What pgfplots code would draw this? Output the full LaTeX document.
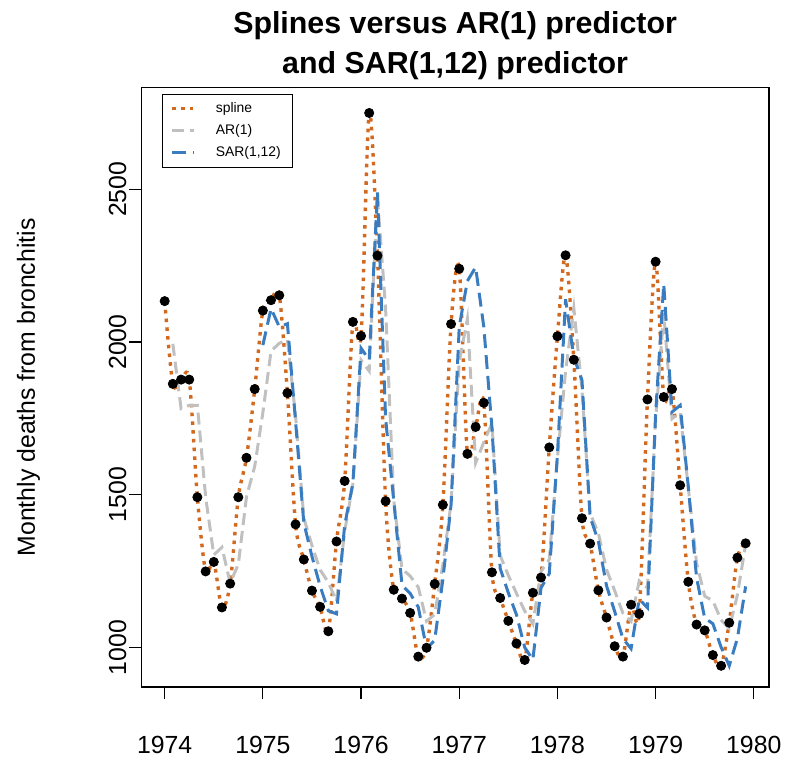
\documentclass[border=0pt]{standalone}
\usepackage{fontspec}
\setmainfont{Liberation Sans}
\usepackage{pgfplots}
\usepackage{pgfplotstable}
\pgfplotsset{compat=1.18}

\definecolor{splinecol}{RGB}{210,105,30}
\definecolor{arcol}{RGB}{192,192,192}
\definecolor{sarcol}{RGB}{58,124,192}

% monthly deaths (points, spline through them)
\pgfplotstableread{
t y
1974.000 2134
1974.083 1863
1974.167 1877
1974.250 1877
1974.333 1492
1974.417 1249
1974.500 1280
1974.583 1131
1974.667 1209
1974.750 1492
1974.833 1621
1974.917 1846
1975.000 2103
1975.083 2137
1975.167 2153
1975.250 1833
1975.333 1403
1975.417 1288
1975.500 1186
1975.583 1133
1975.667 1053
1975.750 1347
1975.833 1545
1975.917 2066
1976.000 2020
1976.083 2750
1976.167 2283
1976.250 1479
1976.333 1189
1976.417 1160
1976.500 1113
1976.583 970
1976.667 999
1976.750 1208
1976.833 1467
1976.917 2059
1977.000 2240
1977.083 1634
1977.167 1722
1977.250 1801
1977.333 1246
1977.417 1162
1977.500 1087
1977.583 1013
1977.667 959
1977.750 1179
1977.833 1229
1977.917 1655
1978.000 2019
1978.083 2284
1978.167 1942
1978.250 1423
1978.333 1340
1978.417 1187
1978.500 1098
1978.583 1004
1978.667 970
1978.750 1140
1978.833 1110
1978.917 1812
1979.000 2263
1979.083 1820
1979.167 1846
1979.250 1531
1979.333 1215
1979.417 1075
1979.500 1056
1979.583 975
1979.667 940
1979.750 1081
1979.833 1294
1979.917 1341
}\deaths

% AR(1) one-step predictions
\pgfplotstableread{
t y
1974.083 1994
1974.167 1782
1974.250 1793
1974.333 1793
1974.417 1493
1974.500 1303
1974.583 1328
1974.667 1211
1974.750 1272
1974.833 1493
1974.917 1593
1975.000 1769
1975.083 1970
1975.167 1996
1975.250 2008
1975.333 1759
1975.417 1424
1975.500 1334
1975.583 1254
1975.667 1213
1975.750 1151
1975.833 1380
1975.917 1534
1976.000 1941
1976.083 1905
1976.167 2474
1976.250 2110
1976.333 1483
1976.417 1257
1976.500 1234
1976.583 1197
1976.667 1086
1976.750 1108
1976.833 1271
1976.917 1473
1977.000 1935
1977.083 2076
1977.167 1604
1977.250 1672
1977.333 1734
1977.417 1301
1977.500 1236
1977.583 1177
1977.667 1119
1977.750 1077
1977.833 1249
1977.917 1288
1978.000 1620
1978.083 1904
1978.167 2111
1978.250 1844
1978.333 1439
1978.417 1374
1978.500 1255
1978.583 1186
1978.667 1112
1978.750 1086
1978.833 1218
1978.917 1195
1979.000 1743
1979.083 2094
1979.167 1749
1979.250 1769
1979.333 1523
1979.417 1277
1979.500 1168
1979.583 1153
1979.667 1090
1979.750 1062
1979.833 1172
1979.917 1338
}\arpred

% SAR(1,12) predictions
\pgfplotstableread{
t y
1975.000 1990
1975.083 2110
1975.167 2050
1975.250 2060
1975.333 1740
1975.417 1408
1975.500 1298
1975.583 1201
1975.667 1120
1975.750 1110
1975.833 1400
1975.917 1538
1976.000 1980
1976.083 1941
1976.167 2490
1976.250 1750
1976.333 1480
1976.417 1204
1976.500 1177
1976.583 1132
1976.667 996
1976.750 1024
1976.833 1222
1976.917 1468
1977.000 2050
1977.083 2200
1977.167 2245
1977.250 2050
1977.333 1720
1977.417 1259
1977.500 1179
1977.583 1107
1977.667 1000
1977.750 960
1977.833 1195
1977.917 1242
1978.000 1631
1978.083 2140
1978.167 1950
1978.250 1875
1978.333 1427
1978.417 1348
1978.500 1202
1978.583 1118
1978.667 1029
1978.750 996
1978.833 1158
1978.917 1130
1979.000 1765
1979.083 2190
1979.167 1771
1979.250 1793
1979.333 1526
1979.417 1229
1979.500 1096
1979.583 1078
1979.667 1001
1979.750 940
1979.833 1030
1979.917 1200
}\sarpred

\begin{document}
\begin{tikzpicture}
% page = 788x760 px at 0.5bp per px
\path (0,0) rectangle (394bp,380bp);
\begin{axis}[
  at={(71bp,35bp)}, anchor=south west,
  scale only axis, width=315bp, height=301bp,
  xmin=1973.763, xmax=1980.153,
  ymin=870, ymax=2833,
  xtick={1974,1975,1976,1977,1978,1979,1980},
  ytick={1000,1500,2000,2500},
  xtick pos=left, ytick pos=left,
  /pgf/number format/1000 sep={},
  /pgf/number format/assume math mode=true,
  tick align=outside,
  major tick length=6bp,
  tick style={black, line width=0.6bp},
  axis line style={line width=0.8bp},
  every tick label/.append style={font=\fontsize{12.5}{14}\selectfont},
  xticklabel style={anchor=center},
  xticklabel shift=23bp,
  yticklabel style={anchor=center, rotate=90},
  yticklabel shift=6bp,
  ylabel={Monthly deaths from bronchitis},
  every axis y label/.style={at={(axis description cs:-0.18,0.5)}, rotate=90, anchor=center, font=\fontsize{12.5}{14}\selectfont},
  title={Splines versus AR(1) predictor\\and SAR(1,12) predictor},
  every axis title/.style={at={(axis description cs:0.5,1.07)}, anchor=center, align=center, font=\fontsize{15.3}{20}\selectfont\bfseries},
  legend style={at={(axis description cs:0.033,0.99)}, anchor=north west,
    font=\fontsize{7}{8}\selectfont, draw=black, line width=0.6bp,
    row sep=0.5bp, column sep=8bp, inner xsep=4bp, inner ysep=2bp},
  legend cell align=left,
  legend image code/.code={\draw[#1] (0bp,0bp) -- (11bp,0bp);},
]
\addplot[only marks, mark=*, mark size=2.3bp, black, forget plot] table[x=t,y=y]{\deaths};
\addplot[splinecol, line width=1.7bp, dash pattern=on 1.8bp off 2.6bp, smooth, tension=0.5] table[x=t,y=y]{\deaths};
\addlegendentry{spline}
\addplot[arcol, line width=1.5bp, dash pattern=on 6bp off 3bp] table[x=t,y=y]{\arpred};
\addlegendentry{AR(1)}
\addplot[sarcol, line width=1.5bp, dash pattern=on 7bp off 3.5bp] table[x=t,y=y]{\sarpred};
\addlegendentry{SAR(1,12)}
\end{axis}
\end{tikzpicture}
\end{document}
